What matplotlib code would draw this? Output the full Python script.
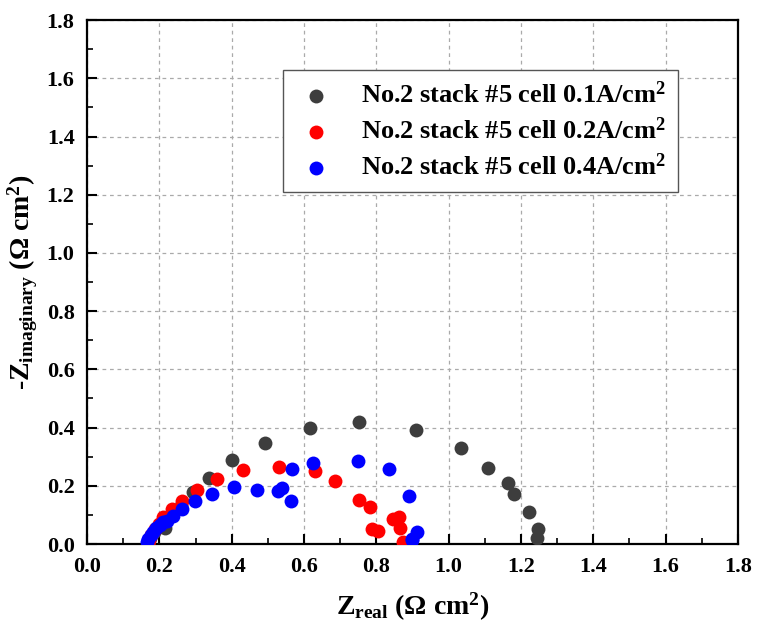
import matplotlib
matplotlib.use("Agg")
import matplotlib.pyplot as plt
from matplotlib.ticker import MultipleLocator

plt.rcParams['font.family'] = ['Liberation Serif', 'DejaVu Serif']
plt.rcParams['font.weight'] = 'bold'
plt.rcParams['mathtext.fontset'] = 'custom'
plt.rcParams['mathtext.rm'] = 'Liberation Serif:bold'
plt.rcParams['mathtext.bf'] = 'Liberation Serif:bold'
plt.rcParams['mathtext.it'] = 'Liberation Serif:bold'
plt.rcParams['mathtext.default'] = 'regular'

labels = ["No.2 stack #5 cell 0.1A/cm$^2$",
          "No.2 stack #5 cell 0.2A/cm$^2$",
          "No.2 stack #5 cell 0.4A/cm$^2$"]
colors = ["#3d3d3d", "#ff0000", "#0000ff"]

z_real_01 = [0.170, 0.175, 0.185, 0.200, 0.216, 0.235, 0.260, 0.294, 0.337, 0.400,
             0.492, 0.617, 0.753, 0.911, 1.034, 1.110, 1.163, 1.181, 1.222, 1.246, 1.243]
z_imag_01 = [0.000, 0.020, 0.040, 0.060, 0.054, 0.100, 0.130, 0.180, 0.226, 0.289,
             0.346, 0.398, 0.420, 0.392, 0.329, 0.260, 0.211, 0.171, 0.111, 0.050, 0.020]

z_real_02 = [0.168, 0.172, 0.178, 0.188, 0.198, 0.211, 0.234, 0.262, 0.303, 0.359,
             0.432, 0.532, 0.630, 0.686, 0.753, 0.782, 0.787, 0.806, 0.847, 0.863,
             0.865, 0.873]
z_imag_02 = [0.000, 0.015, 0.030, 0.050, 0.070, 0.094, 0.119, 0.149, 0.186, 0.222,
             0.254, 0.266, 0.251, 0.218, 0.151, 0.126, 0.050, 0.045, 0.085, 0.094,
             0.054, 0.008]

z_real_04 = [0.165, 0.170, 0.176, 0.183, 0.192, 0.202, 0.211, 0.220, 0.237, 0.262,
             0.299, 0.345, 0.407, 0.471, 0.529, 0.538, 0.564, 0.566, 0.624, 0.748,
             0.836, 0.891, 0.913, 0.900, 0.898]
z_imag_04 = [0.008, 0.018, 0.031, 0.042, 0.054, 0.064, 0.075, 0.080, 0.096, 0.119,
             0.149, 0.172, 0.195, 0.186, 0.183, 0.191, 0.148, 0.257, 0.280, 0.285,
             0.259, 0.166, 0.041, 0.016, 0.014]

series = [(z_real_01, z_imag_01), (z_real_02, z_imag_02), (z_real_04, z_imag_04)]

fig = plt.figure(figsize=(7.6, 6.3), dpi=100)
ax = fig.add_axes([0.1145, 0.1365, 0.8565, 0.8315])

for (xs, ys), c, lab in zip(series, colors, labels):
    ax.scatter(xs, ys, s=100, color=c, label=lab, zorder=3, linewidths=0)

ax.set_xlim(0, 1.8)
ax.set_ylim(0, 1.8)
ax.xaxis.set_major_locator(MultipleLocator(0.2))
ax.xaxis.set_minor_locator(MultipleLocator(0.1))
ax.yaxis.set_major_locator(MultipleLocator(0.2))
ax.yaxis.set_minor_locator(MultipleLocator(0.1))
ax.xaxis.set_major_formatter(matplotlib.ticker.FormatStrFormatter('%.1f'))
ax.yaxis.set_major_formatter(matplotlib.ticker.FormatStrFormatter('%.1f'))

ax.tick_params(which='major', direction='in', length=7, width=1.5, labelsize=16, pad=9)
ax.tick_params(which='minor', direction='in', length=4, width=1.2)
ax.tick_params(top=False, right=False)
for sp in ax.spines.values():
    sp.set_linewidth(1.6)

ax.grid(True, which='major', linestyle=(0, (3, 3)), color='#aaaaaa', linewidth=0.9)
ax.set_axisbelow(True)

ax.set_xlabel(r"Z$_{\mathregular{real}}$ ($\mathregular{\Omega}$ cm$^{2}$)", fontsize=20, fontweight='bold', labelpad=10)
ax.set_ylabel(r"-Z$_{\mathregular{imaginary}}$ ($\mathregular{\Omega}$ cm$^{2}$)", fontsize=20, fontweight='bold', labelpad=5)

leg = ax.legend(loc='upper right', bbox_to_anchor=(0.908, 0.905), fontsize=19,
                frameon=True, fancybox=False, edgecolor='#555555', framealpha=1,
                handletextpad=0.9, handlelength=1.6, borderpad=0.45, labelspacing=0.35,
                borderaxespad=0, markerscale=1.0)
leg.get_frame().set_linewidth(1.0)

fig.savefig("out.png", dpi=100)
